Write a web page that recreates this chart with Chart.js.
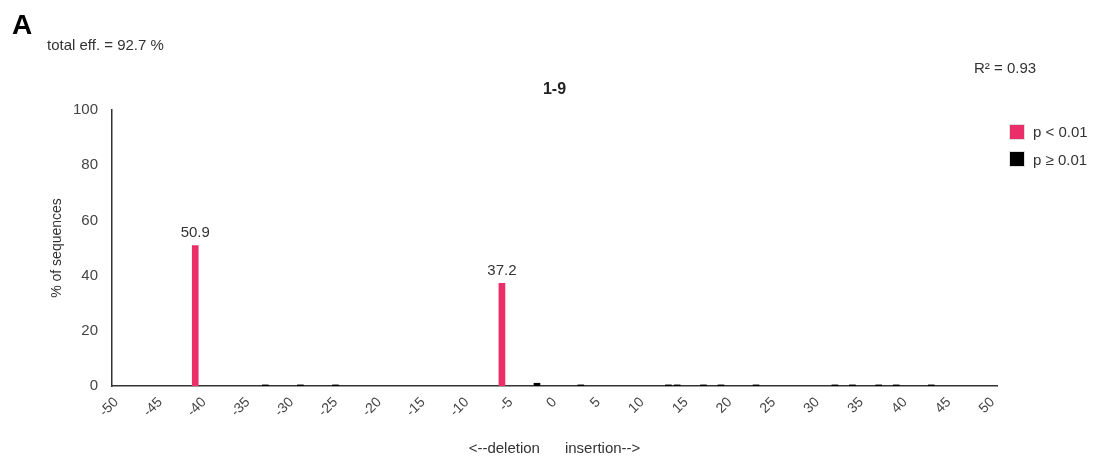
<!DOCTYPE html>
<html>
<head>
<meta charset="utf-8">
<title>1-9 indel spectrum</title>
<script src="https://cdn.jsdelivr.net/npm/chart.js@4.4.1/dist/chart.umd.min.js"></script>
<style>
  html, body { margin: 0; padding: 0; background: #fff; }
  #wrap { position: relative; width: 1094px; height: 459px; overflow: hidden;
          font-family: "Liberation Sans", Arial, sans-serif; color: #333; }
  #chart { position: absolute; left: 0; top: 0; }
  .panel { position: absolute; left: 12px; top: 9px; font-size: 28px; line-height: 32px; font-weight: bold; color: #000; }
  .note { position: absolute; font-size: 15px; line-height: 18px; color: #333; white-space: pre; }
  #legend { position: absolute; left: 1009px; top: 118px; }
  .item { display: flex; align-items: center; height: 27.5px; font-size: 15px; color: #333; white-space: pre; }
  .swatch { width: 16px; height: 16px; margin-right: 8px; box-sizing: border-box; border: 1px solid #ddd; }
</style>
</head>
<body>
<div id="wrap">
  <canvas id="chart" width="1094" height="459"></canvas>
  <div class="panel">A</div>
  <div class="note" style="left:47px; top:36px;">total eff. = 92.7 %</div>
  <div class="note" style="left:974px; top:59px;">R² = 0.93</div>
  <div id="legend"></div>
</div>
<script>
// Indel sizes shown on the x axis (negative = deletion, positive = insertion)
const categories = [];
for (let s = -50; s <= 50; s++) categories.push(s);

// Labelled positions along the x axis
const tickLabels = [-50, -45, -40, -35, -30, -25, -20, -15, -10, -5, 0, 5, 10, 15, 20, 25, 30, 35, 40, 45, 50];

// Significant indels (p < 0.01), % of sequences
const sigSizes  = [-41, -6];
const sigValues = [50.9, 37.2];

// Non-significant indels (p >= 0.01), % of sequences
const otherSizes  = [-33, -29, -25, -2, 3, 13, 14, 17, 19, 23, 32, 34, 37, 39, 43];
const otherValues = [0.4, 0.4, 0.4, 1.0, 0.4, 0.4, 0.4, 0.4, 0.4, 0.4, 0.4, 0.4, 0.4, 0.4, 0.4];

const seriesNames = ['p < 0.01', 'p \u2265 0.01'];
const seriesColors = ['#ea2e67', '#000000'];
const sampleName = '1-9';

function spread(sizes, values) {
  return categories.map(c => {
    const k = sizes.indexOf(c);
    return k === -1 ? null : values[k];
  });
}

const FONT = "'Liberation Sans', Arial, sans-serif";

// Sample name centred over the plotting area
const plotTitle = {
  id: 'plotTitle',
  afterDraw(chart) {
    const { ctx, chartArea } = chart;
    ctx.save();
    ctx.font = 'bold 16px ' + FONT;
    ctx.fillStyle = '#222';
    ctx.textAlign = 'center';
    ctx.textBaseline = 'middle';
    ctx.fillText(sampleName, (chartArea.left + chartArea.right) / 2, chartArea.top - 20);
    ctx.restore();
  }
};

// Prints the value above each significant bar
const valueLabels = {
  id: 'valueLabels',
  afterDatasetsDraw(chart) {
    const ctx = chart.ctx;
    const meta = chart.getDatasetMeta(0);
    const data = chart.data.datasets[0].data;
    ctx.save();
    ctx.font = '15px ' + FONT;
    ctx.fillStyle = '#333';
    ctx.textAlign = 'center';
    ctx.textBaseline = 'bottom';
    meta.data.forEach((el, i) => {
      if (data[i] === null) return;
      ctx.fillText(data[i].toFixed(1), el.x, el.y - 5);
    });
    ctx.restore();
  }
};

const chart = new Chart(document.getElementById('chart'), {
  type: 'bar',
  data: {
    labels: categories,
    datasets: [
      { label: seriesNames[0], data: spread(sigSizes, sigValues), backgroundColor: seriesColors[0],
        barThickness: 6, grouped: false },
      { label: seriesNames[1], data: spread(otherSizes, otherValues), backgroundColor: seriesColors[1],
        barThickness: 6, grouped: false }
    ]
  },
  options: {
    responsive: false,
    animation: false,
    layout: { padding: { top: 110, right: 97, left: 0, bottom: 0 } },
    plugins: {
      legend: { display: false },
      tooltip: { enabled: false },
      title: { display: false }
    },
    scales: {
      x: {
        type: 'category',
        offset: true,
        grid: { display: false, drawTicks: false },
        border: { color: '#333', width: 1.5 },
        ticks: {
          autoSkip: false, minRotation: 45, maxRotation: 45, padding: 8,
          color: '#444', font: { family: FONT, size: 14 },
          callback: (v, i) => tickLabels.includes(categories[i]) ? String(categories[i]) : ''
        },
        title: {
          display: true, text: '<--deletion      insertion-->', color: '#333',
          font: { family: FONT, size: 15 }, padding: { top: 0, bottom: 1 }
        },
        afterFit: s => { s.height = 73; }
      },
      y: {
        min: 0, max: 100,
        grid: { display: false, drawTicks: false },
        border: { color: '#333', width: 1.5 },
        ticks: { stepSize: 20, padding: 14, color: '#444', font: { family: FONT, size: 15 } },
        title: {
          display: true, text: '% of sequences', color: '#333',
          font: { family: FONT, size: 14 }, padding: { top: 49 }
        },
        afterFit: s => { s.width = 112; }
      }
    }
  },
  plugins: [valueLabels, plotTitle]
});

// Legend built from the chart's datasets
const legend = document.getElementById('legend');
chart.data.datasets.forEach(ds => {
  const row = document.createElement('div');
  row.className = 'item';
  const sw = document.createElement('span');
  sw.className = 'swatch';
  sw.style.background = ds.backgroundColor;
  row.appendChild(sw);
  row.appendChild(document.createTextNode(ds.label));
  legend.appendChild(row);
});
</script>
</body>
</html>
